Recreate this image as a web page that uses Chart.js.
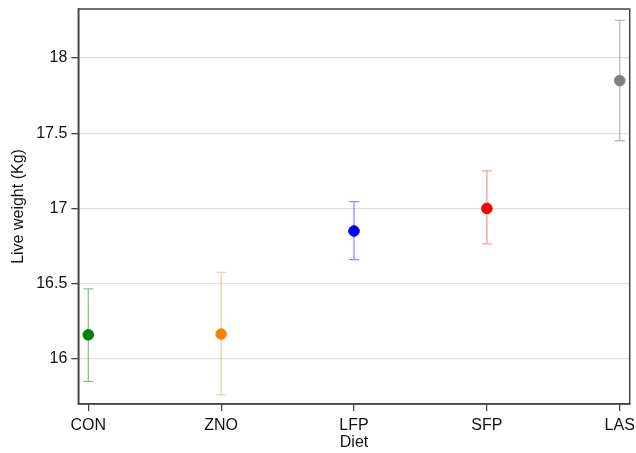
<!DOCTYPE html>
<html><head><meta charset="utf-8">
<script src="https://cdn.jsdelivr.net/npm/chart.js@4/dist/chart.umd.min.js"></script>
<style>html,body{margin:0;padding:0;background:#fff}#wrap{width:636px;height:453px}</style>
</head><body><div id="wrap"><canvas id="c" width="636" height="453"></canvas></div>
<script>
const categories = ["CON", "ZNO", "LFP", "SFP", "LAS"];
const means = [16.16, 16.165, 16.85, 17.0, 17.85];
const lowerCI = [15.85, 15.76, 16.66, 16.765, 17.45];
const upperCI = [16.465, 16.575, 17.045, 17.25, 18.25];
const yTicks = [16, 16.5, 17, 17.5, 18];
const pointColors = ["#008000", "#ff8000", "#0000ff", "#ff0000", "#808080"];
const barColors = ["rgba(0,128,0,0.45)", "rgba(255,128,0,0.4)", "rgba(0,0,255,0.45)", "rgba(255,0,0,0.4)", "rgba(128,128,128,0.55)"];

const errorBars = {
  id: 'errorBars',
  beforeDatasetsDraw(chart) {
    const ctx = chart.ctx, xs = chart.scales.x, ys = chart.scales.y;
    ctx.save();
    ctx.lineWidth = 1.3;
    categories.forEach((c, i) => {
      const x = xs.getPixelForValue(i);
      const y1 = ys.getPixelForValue(lowerCI[i]);
      const y2 = ys.getPixelForValue(upperCI[i]);
      ctx.strokeStyle = barColors[i];
      ctx.beginPath();
      ctx.moveTo(x, y1); ctx.lineTo(x, y2);
      ctx.moveTo(x - 5, y1); ctx.lineTo(x + 5, y1);
      ctx.moveTo(x - 5, y2); ctx.lineTo(x + 5, y2);
      ctx.stroke();
    });
    ctx.restore();
  },
  afterDraw(chart) {
    const a = chart.chartArea, ctx = chart.ctx;
    ctx.save();
    ctx.strokeStyle = '#444';
    ctx.lineWidth = 1.5;
    ctx.strokeRect(a.left, a.top, a.right - a.left, a.bottom - a.top);
    ctx.restore();
  }
};

new Chart(document.getElementById('c'), {
  type: 'scatter',
  data: {
    datasets: [{
      data: means.map((m, i) => ({ x: i, y: m })),
      pointBackgroundColor: pointColors,
      pointBorderColor: pointColors,
      pointRadius: 5.3,
      pointHoverRadius: 5.3,
      showLine: false
    }]
  },
  options: {
    responsive: false,
    animation: false,
    devicePixelRatio: 1,
    layout: { padding: { top: 9, right: 5, left: 1, bottom: 0 } },
    plugins: { legend: { display: false }, tooltip: { enabled: false } },
    scales: {
      x: {
        type: 'linear',
        min: -0.075, max: 4.075,
        afterBuildTicks(s) { s.ticks = categories.map((c, i) => ({ value: i })); },
        afterFit(s) { s.paddingRight = 0; s.paddingLeft = 0; s.height = 49; },
        ticks: {
          callback: (v) => categories[v] ?? '',
          color: '#111',
          font: { family: 'Liberation Sans', size: 16 },
          maxRotation: 0, autoSkip: false, padding: 5
        },
        grid: { display: true, drawOnChartArea: false, drawTicks: true, tickLength: 7, color: '#444', lineWidth: 1.3 },
        border: { display: true, color: '#444', width: 1.5 },
        title: { display: true, text: 'Diet', color: '#111', font: { family: 'Liberation Sans', size: 16 }, padding: { top: 0, bottom: 1 } }
      },
      y: {
        min: 15.7, max: 18.326,
        afterBuildTicks(s) { s.ticks = yTicks.map(v => ({ value: v })); },
        afterFit(s) { s.paddingTop = 0; s.paddingBottom = 0; },
        ticks: {
          callback: (v) => String(v),
          color: '#111',
          font: { family: 'Liberation Sans', size: 16 },
          padding: 4
        },
        grid: {
          color: '#e0e0e0', lineWidth: 1.3, tickLength: 7,
          tickColor: '#444'
        },
        border: { display: true, color: '#444', width: 1.5 },
        title: { display: true, text: 'Live weight (Kg)', color: '#111', font: { family: 'Liberation Sans', size: 16 }, padding: { top: 8, bottom: 4 } }
      }
    }
  },
  plugins: [errorBars]
});
</script>
</body></html>
